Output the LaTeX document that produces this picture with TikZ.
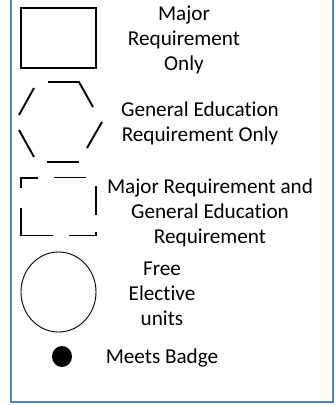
\documentclass[tikz,border=0pt]{standalone}
\usepackage{fontspec}
\setmainfont{Carlito}[Ligatures=NoCommon]
\definecolor{frameblue}{RGB}{74,132,198}
\begin{document}
\begin{tikzpicture}[x=1pt,y=-1pt,
  lbl/.style={align=center,inner sep=0pt,font=\fontsize{21.2}{25}\selectfont},
  thick2/.style={line width=1.9pt,black},
  thin1/.style={line width=0.9pt,black}]
\useasboundingbox (0,0) rectangle (335,405);
\clip (0,0) rectangle (335,405);
% frame
\draw[frameblue,line width=2pt] (11,-5) -- (11,402) -- (333,402) -- (333,-5);
% plain rectangle
\draw[thick2] (21,8) rectangle (96,68);
% dashed hexagon
\draw[thick2] (48,82) -- (79,82) -- (93,107);
\draw[thick2] (34,88) -- (19,115);
\draw[thick2] (102,122) -- (87,148);
\draw[thick2] (19,130) -- (34,157);
\draw[thick2] (47,162) -- (79,162);
% dashed rectangle
\draw[thick2] (38,178) -- (21,178) -- (21,188);
\draw[thick2] (54,177.5) -- (86,177.5);
\draw[thick2] (96,186) -- (96,215);
\draw[thick2] (21,208) -- (21,235.5) -- (53,235.5);
\draw[thick2] (69,235.5) -- (96,235.5) -- (96,232);
% circle
\draw[thin1] (58.5,292) ellipse [x radius=37.5, y radius=40];
% dot
\fill[black] (62,356.5) ellipse [x radius=10, y radius=10.5];
% labels
\node[lbl] (t1) at (184,40) {Major\\Requirement\\Only};
\node[lbl] (t2) at (200,123) {General Education\\Requirement Only};
\node[lbl] (t3) at (210,213) {Major Requirement and\\General Education\\Requirement};
\node[lbl] (t4) at (162,294) {Free\\Elective\\units};
\node[lbl] (t5) at (162,358) {Meets Badge};
\end{tikzpicture}
\end{document}
